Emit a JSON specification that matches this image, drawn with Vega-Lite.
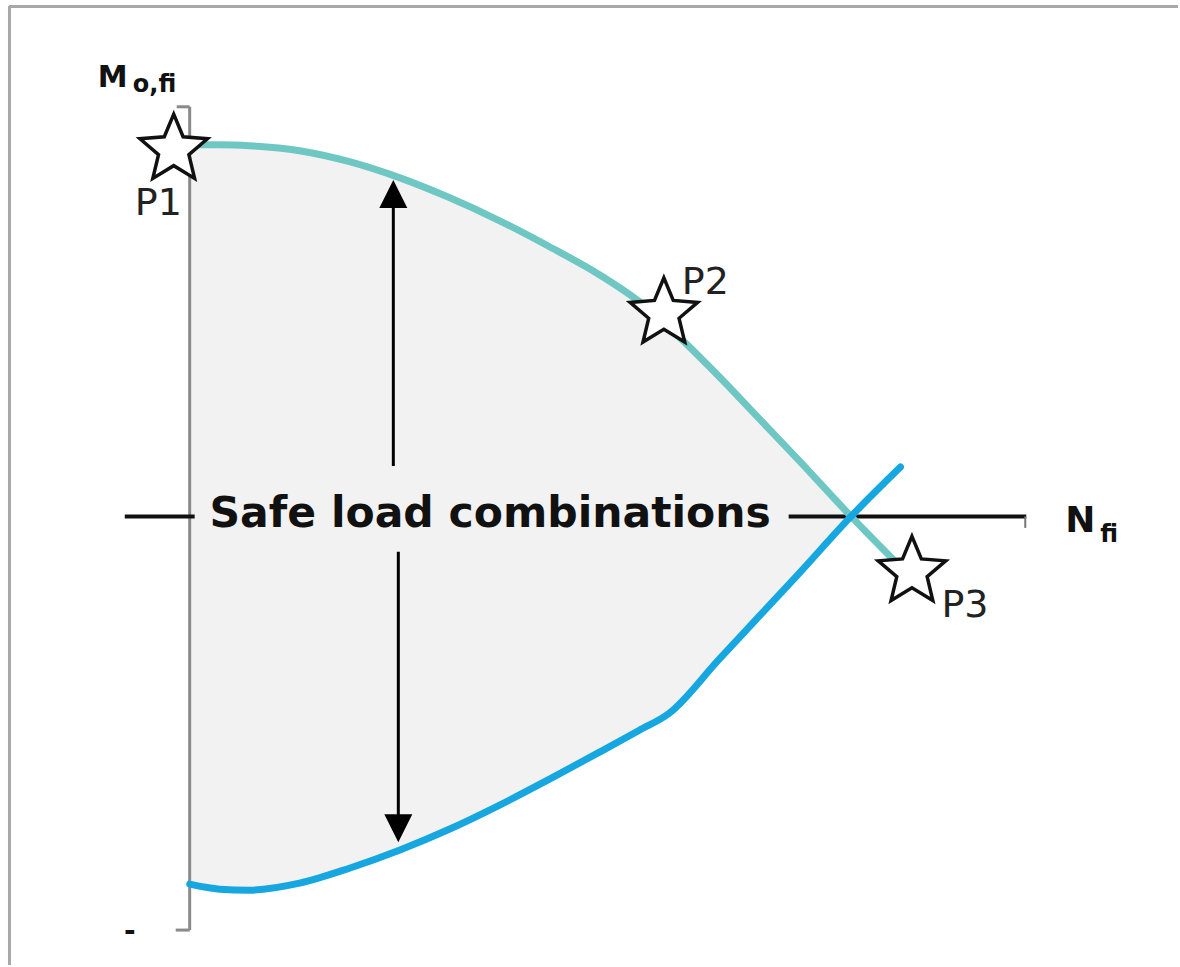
{
  "$schema": "https://vega.github.io/schema/vega-lite/v6.json",
  "width": 1180,
  "height": 967,
  "autosize": {"type": "fit", "contains": "padding"},
  "padding": 0,
  "background": "white",
  "config": {"view": {"stroke": null}, "font": "DejaVu Sans"},
  "encoding": {
    "x": {"field": "n", "type": "quantitative", "scale": {"domain": [-190, 990], "nice": false, "zero": false}, "axis": null},
    "y": {"field": "m", "type": "quantitative", "scale": {"domain": [-450, 517], "nice": false, "zero": false}, "axis": null}
  },
  "layer": [
    {
      "data": {"values": [
        {"n": -181, "m": 510.5, "n2": 990, "m2": 510.5},
        {"n": -180.5, "m": 511, "n2": -180.5, "m2": -450}
      ]},
      "mark": {"type": "rule", "color": "#a8a8a8", "strokeWidth": 3},
      "encoding": {"x2": {"field": "n2"}, "y2": {"field": "m2"}}
    },
    {
      "data": {"name": "curves", "values": [
        {"n": 0, "teal": 372, "blue": -369},
        {"n": 30, "teal": 372, "blue": -374},
        {"n": 60, "teal": 371, "blue": -375},
        {"n": 110, "teal": 366, "blue": -368},
        {"n": 160, "teal": 355, "blue": -353},
        {"n": 210, "teal": 339, "blue": -335},
        {"n": 260, "teal": 319, "blue": -314},
        {"n": 310, "teal": 296, "blue": -290},
        {"n": 360, "teal": 270, "blue": -264},
        {"n": 410, "teal": 242, "blue": -237},
        {"n": 450, "teal": 215, "blue": -215},
        {"n": 480, "teal": 189, "blue": -198},
        {"n": 530, "teal": 140, "blue": -144},
        {"n": 570, "teal": 98, "blue": -101},
        {"n": 610, "teal": 56, "blue": -58},
        {"n": 662, "teal": 0, "blue": -1},
        {"n": 712, "teal": -51, "blue": 49}
      ]},
      "transform": [{"filter": "datum.n <= 662"}],
      "mark": {"type": "area", "color": "#f2f2f2", "interpolate": "monotone"},
      "encoding": {
        "y": {"field": "teal", "type": "quantitative", "scale": {"domain": [-450, 517], "nice": false, "zero": false}, "axis": null},
        "y2": {"field": "blue"}
      }
    },
    {
      "data": {"values": [
        {"n": 0, "m": 410, "n2": 0, "m2": -415},
        {"n": -13, "m": 410, "n2": 0, "m2": 410},
        {"n": -14, "m": -415, "n2": 0, "m2": -415}
      ]},
      "mark": {"type": "rule", "color": "#8a8a8a", "strokeWidth": 3},
      "encoding": {"x2": {"field": "n2"}, "y2": {"field": "m2"}}
    },
    {
      "data": {"values": [
        {"n": -65, "m": -0.5, "n2": 5, "m2": -0.5},
        {"n": 600, "m": -0.5, "n2": 838, "m2": -0.5}
      ]},
      "mark": {"type": "rule", "color": "#111111", "strokeWidth": 4},
      "encoding": {"x2": {"field": "n2"}, "y2": {"field": "m2"}}
    },
    {
      "data": {"values": [
        {"n": 837, "m": -0.5, "n2": 837, "m2": -12}
      ]},
      "mark": {"type": "rule", "color": "#777777", "strokeWidth": 2},
      "encoding": {"x2": {"field": "n2"}, "y2": {"field": "m2"}}
    },
    {
      "data": {"values": [
        {"n": 204, "m": 50, "n2": 204, "m2": 312},
        {"n": 209, "m": -36, "n2": 209, "m2": -303}
      ]},
      "mark": {"type": "rule", "color": "#000000", "strokeWidth": 3},
      "encoding": {"x2": {"field": "n2"}, "y2": {"field": "m2"}}
    },
    {
      "data": {"values": [{"n": 204, "m": 322.5}]},
      "mark": {"type": "point", "shape": "M0,-1L1,1L-1,1Z", "filled": true, "color": "#000000", "opacity": 1, "size": 784},
      "encoding": {}
    },
    {
      "data": {"values": [{"n": 209, "m": -313}]},
      "mark": {"type": "point", "shape": "M0,1L1,-1L-1,-1Z", "filled": true, "color": "#000000", "opacity": 1, "size": 784},
      "encoding": {}
    },
    {
      "data": {"name": "curves"},
      "transform": [
        {"fold": ["teal", "blue"], "as": ["curve", "m"]}
      ],
      "mark": {"type": "line", "strokeWidth": 7, "interpolate": "monotone", "strokeCap": "round"},
      "encoding": {
        "detail": {"field": "curve"},
        "color": {"field": "curve", "type": "nominal", "scale": {"domain": ["teal", "blue"], "range": ["#6fc7c4", "#17a7e0"]}, "legend": null}
      }
    },
    {
      "data": {"values": [
        {"label": "P1", "n": -16, "m": 367},
        {"label": "P2", "n": 475, "m": 203},
        {"label": "P3", "n": 723.5, "m": -56}
      ]},
      "mark": {"type": "point", "shape": "M0,-1L0.2645,-0.3641L0.9511,-0.309L0.428,0.1391L0.5878,0.809L0,0.45L-0.5878,0.809L-0.428,0.1391L-0.9511,-0.309L-0.2645,-0.3641Z", "filled": true, "fill": "#ffffff", "stroke": "#111111", "strokeWidth": 3.5, "strokeJoin": "miter", "opacity": 1, "size": 5041},
      "encoding": {}
    },
    {
      "data": {"values": [
        {"label": "P1", "n": -55, "m": 302},
        {"label": "P2", "n": 493, "m": 222},
        {"label": "P3", "n": 753, "m": -101}
      ]},
      "mark": {"type": "text", "fontSize": 38, "align": "left", "baseline": "alphabetic", "color": "#222222"},
      "encoding": {"text": {"field": "label"}}
    },
    {
      "data": {"values": [{"label": "Safe load combinations", "n": 301, "m": -11}]},
      "mark": {"type": "text", "fontSize": 42.5, "fontWeight": "bold", "align": "center", "baseline": "alphabetic", "color": "#111111"},
      "encoding": {"text": {"field": "label"}}
    },
    {
      "data": {"values": [{"label": "M", "n": -92, "m": 430}]},
      "mark": {"type": "text", "fontSize": 30, "fontWeight": "bold", "align": "left", "baseline": "alphabetic", "color": "#111111"},
      "encoding": {"text": {"field": "label"}}
    },
    {
      "data": {"values": [{"label": "N", "n": 877, "m": -16}]},
      "mark": {"type": "text", "fontSize": 36, "fontWeight": "bold", "align": "left", "baseline": "alphabetic", "color": "#111111"},
      "encoding": {"text": {"field": "label"}}
    },
    {
      "data": {"values": [
        {"label": "o,fi", "n": -57, "m": 425},
        {"label": "fi", "n": 912, "m": -26}
      ]},
      "mark": {"type": "text", "fontSize": 24, "fontWeight": "bold", "align": "left", "baseline": "alphabetic", "color": "#111111"},
      "encoding": {"text": {"field": "label"}}
    },
    {
      "data": {"values": [{"label": "-", "n": -60, "m": -425}]},
      "mark": {"type": "text", "fontSize": 28, "fontWeight": "bold", "align": "center", "baseline": "alphabetic", "color": "#111111"},
      "encoding": {"text": {"field": "label"}}
    }
  ]
}
